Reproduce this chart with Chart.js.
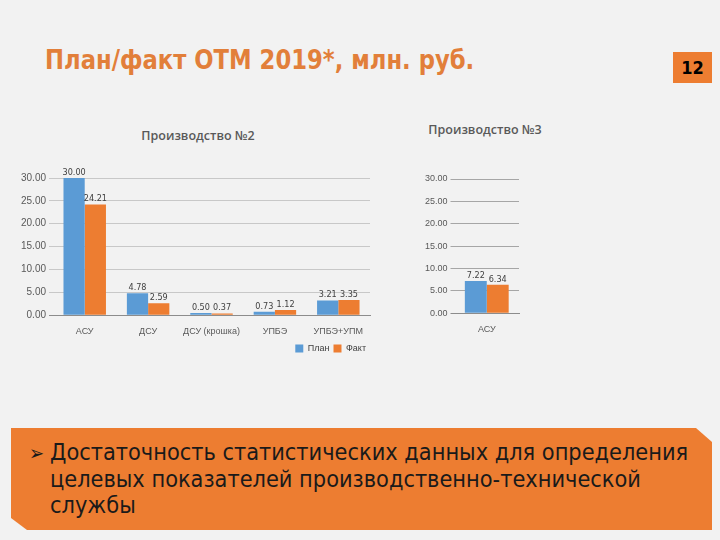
<!DOCTYPE html>
<html lang="ru">
<head>
<meta charset="utf-8">
<script src="https://cdn.jsdelivr.net/npm/chart.js@4.4.1/dist/chart.umd.min.js"></script>
<style>
  html, body { margin: 0; padding: 0; }
  body { width: 720px; height: 540px; background: #f2f2f2; position: relative; overflow: hidden; font-family: "DejaVu Sans Condensed", "DejaVu Sans", sans-serif; }
  #title { position: absolute; left: 45px; top: 44px; font-size: 27px; font-weight: bold; color: #e27f3a; white-space: nowrap; transform: scaleX(0.935); transform-origin: 0 0; }
  #page { position: absolute; left: 673px; top: 52px; width: 39px; height: 31px; background: #ed7d31; color: #000; font-weight: bold; font-size: 18px; line-height: 31px; text-align: center; }
  .ctitle { position: absolute; width: 200px; text-align: center; font-family: "Open Sans", sans-serif; font-weight: 600; font-size: 12.5px; color: #595959; }
  #t1 { left: 98px; top: 127px; }
  #t2 { left: 385px; top: 121px; }
  #c1 { position: absolute; left: 10px; top: 158px; }
  #c2 { position: absolute; left: 410px; top: 159px; }
  #note { position: absolute; left: 11px; top: 428px; width: 701px; height: 102px; background: #ed7d31;
          clip-path: polygon(0 0, 685px 0, 701px 14px, 701px 102px, 16px 102px, 0 90px); }
  #note .txt { position: absolute; left: 39px; top: 11px; width: 660px; font-size: 23.3px; line-height: 26.5px; color: #1a1a1a; }
  #note .arr { position: absolute; left: 18px; top: 13px; font-size: 20px; color: #1a1a1a; }
</style>
</head>
<body>
<div id="title">План/факт ОТМ 2019*, млн. руб.</div>
<div id="page">12</div>
<div class="ctitle" id="t1">Производство №2</div>
<div class="ctitle" id="t2">Производство №3</div>
<canvas id="c1" width="376" height="205"></canvas>
<canvas id="c2" width="150" height="189"></canvas>
<div id="note">
  <div class="arr">➢</div>
  <div class="txt">Достаточность статистических данных для определения<br>целевых показателей производственно-технической<br>службы</div>
</div>
<script>
// Производство №2
const categories2 = ['АСУ', 'ДСУ', 'ДСУ (крошка)', 'УПБЭ', 'УПБЭ+УПМ'];
const plan2 = [30.00, 4.78, 0.50, 0.73, 3.21];
const fact2 = [24.21, 2.59, 0.37, 1.12, 3.35];

// Производство №3
const categories3 = ['АСУ'];
const plan3 = [7.22];
const fact3 = [6.34];

const yTicks = [0, 5, 10, 15, 20, 25, 30];

const BLUE = '#5b9bd5';
const ORANGE = '#ed7d31';

// подписи значений над столбцами
const valueLabels = {
  id: 'valueLabels',
  afterDatasetsDraw(chart) {
    const ctx = chart.ctx;
    ctx.save();
    ctx.font = '9px "DejaVu Sans Condensed", sans-serif';
    ctx.fillStyle = '#404040';
    ctx.textAlign = 'center';
    ctx.textBaseline = 'bottom';
    chart.data.datasets.forEach((ds, i) => {
      chart.getDatasetMeta(i).data.forEach((bar, j) => {
        ctx.fillText(ds.data[j].toFixed(2), bar.x, bar.y - 1);
      });
    });
    ctx.restore();
  }
};

function makeChart(el, labels, plan, fact, opts) {
  return new Chart(el, {
    type: 'bar',
    data: {
      labels: labels,
      datasets: [
        { label: 'План', data: plan, backgroundColor: BLUE },
        { label: 'Факт', data: fact, backgroundColor: ORANGE }
      ]
    },
    options: {
      responsive: false,
      animation: false,
      layout: { padding: opts.padding },
      datasets: { bar: { categoryPercentage: opts.catPct, barPercentage: 1 } },
      plugins: {
        title: { display: false },
        legend: {
          display: opts.legend,
          position: 'bottom', align: 'end',
          labels: { boxWidth: 8, boxHeight: 8, padding: 4, color: '#404040', font: { size: 9 } }
        },
        tooltip: { enabled: false }
      },
      scales: {
        x: {
          grid: { display: false },
          border: { color: '#8c8c8c' },
          ticks: { color: '#595959', font: { size: 9 }, maxRotation: 0, autoSkip: false }
        },
        y: {
          min: 0, max: 30,
          afterBuildTicks(axis) { axis.ticks = yTicks.map(v => ({ value: v })); },
          border: { display: false },
          grid: { color: ctx => ctx.tick.value === 0 ? '#8c8c8c' : opts.gridColor, tickLength: 4 },
          ticks: { color: '#595959', font: { size: opts.yFont }, callback: v => v.toFixed(2) }
        }
      }
    },
    plugins: [valueLabels]
  });
}

makeChart(document.getElementById('c1'), categories2, plan2, fact2, {
  padding: { left: 8, right: 16, top: 20, bottom: 0 },
  catPct: 0.67, legend: true, gridColor: '#c8c8c8', yFont: 10
});

makeChart(document.getElementById('c2'), categories3, plan3, fact3, {
  padding: { left: 12, right: 41, top: 20, bottom: 10 },
  catPct: 0.68, legend: false, gridColor: '#a6a6a6', yFont: 9
});
</script>
</body>
</html>
